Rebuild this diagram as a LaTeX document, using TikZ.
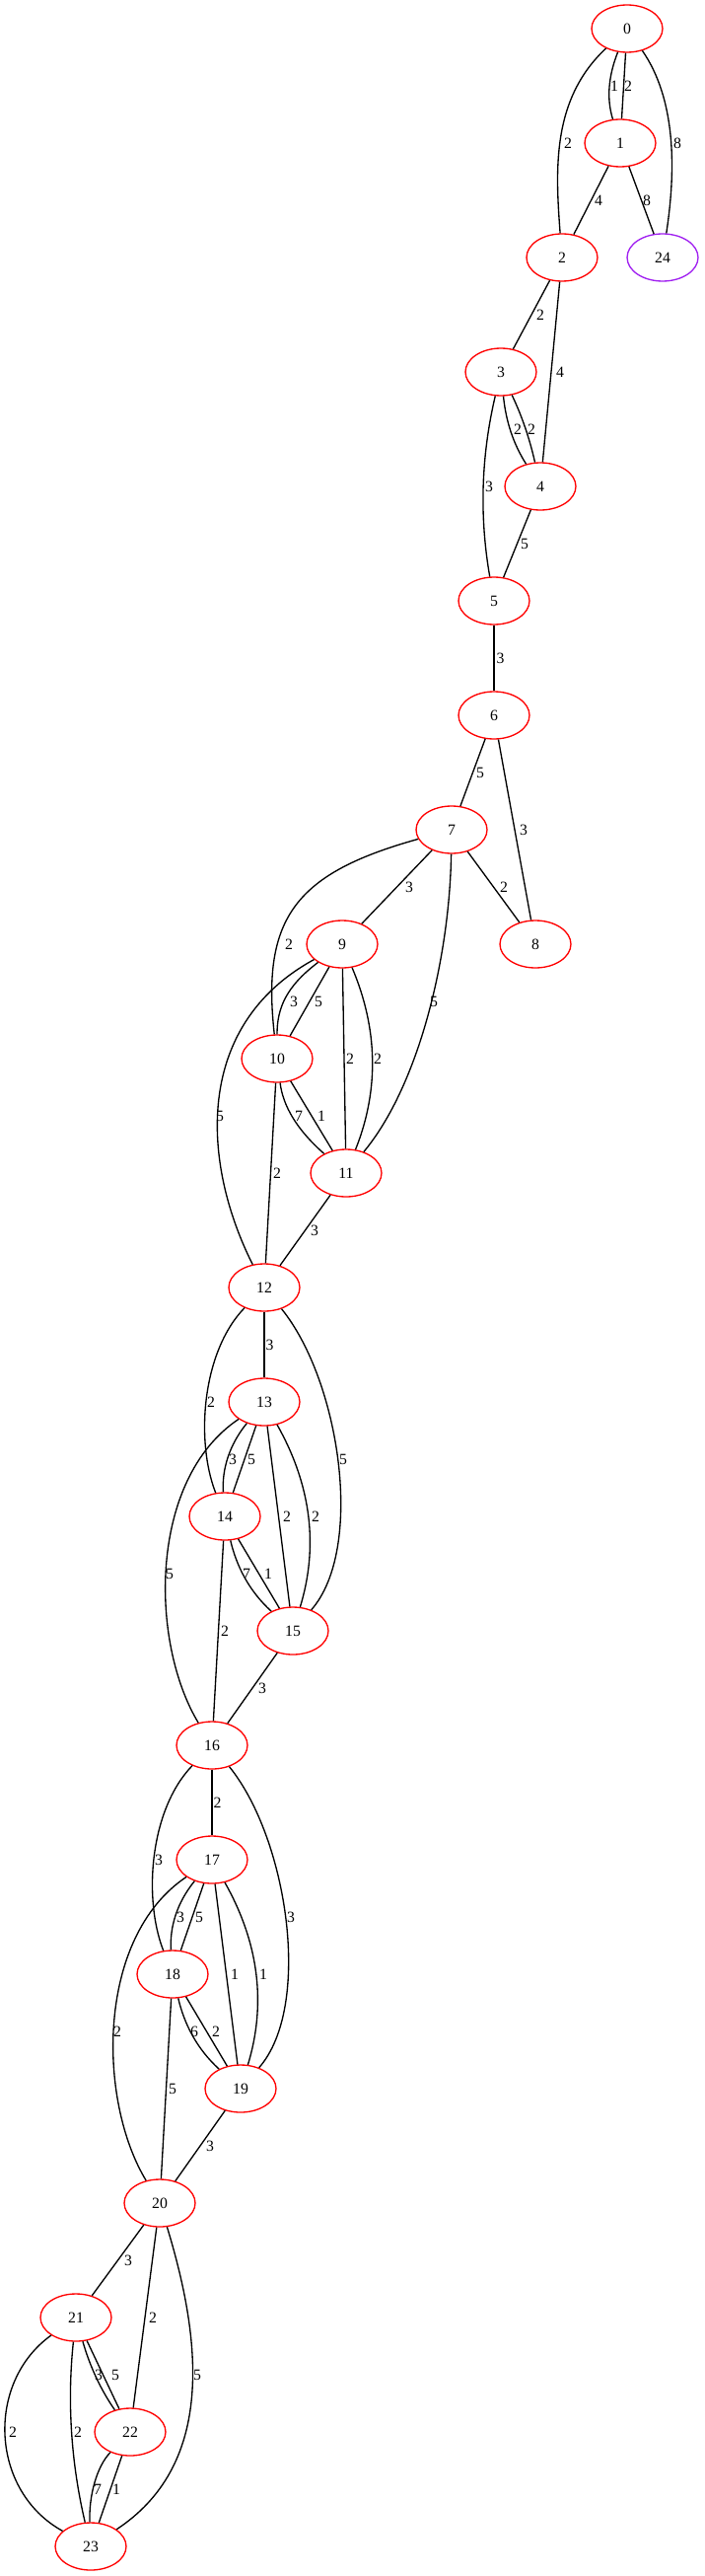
\documentclass[tikz,border=0pt]{standalone}
\usepackage{fontspec}
\setmainfont{Liberation Serif}
\usetikzlibrary{shapes.geometric}
\definecolor{gvred}{HTML}{FF0000}
\definecolor{gvpurple}{HTML}{A020F0}
\newcommand\gvfont{\fontsize{11.8pt}{13pt}\selectfont}
\tikzset{
  vtx/.style={ellipse, draw=gvred, line width=1pt, minimum width=54pt, minimum height=36pt, inner sep=0pt, font=\gvfont},
  vtxp/.style={vtx, draw=gvpurple},
  lnk/.style={line width=1pt, draw=black},
  wt/.style={font=\gvfont, inner sep=0pt}
}
\begin{document}
\begin{tikzpicture}[x=0.75pt,y=-0.75pt]
\useasboundingbox (0,0) rectangle (714,2611);
% nodes
\node[vtx] (n0) at (636,29) {0};
\node[vtx] (n1) at (629,145) {1};
\node[vtx] (n2) at (570,261) {2};
\node[vtxp] (n24) at (672,261) {24};
\node[vtx] (n3) at (508,377) {3};
\node[vtx] (n4) at (548,493) {4};
\node[vtx] (n5) at (501,609) {5};
\node[vtx] (n6) at (501,725) {6};
\node[vtx] (n7) at (458,841) {7};
\node[vtx] (n8) at (543,957) {8};
\node[vtx] (n9) at (347,957) {9};
\node[vtx] (n10) at (281,1073) {10};
\node[vtx] (n11) at (351,1189) {11};
\node[vtx] (n12) at (268,1305) {12};
\node[vtx] (n13) at (268,1421) {13};
\node[vtx] (n14) at (228,1537) {14};
\node[vtx] (n15) at (297,1653) {15};
\node[vtx] (n16) at (215,1769) {16};
\node[vtx] (n17) at (215,1885) {17};
\node[vtx] (n18) at (175,2001) {18};
\node[vtx] (n19) at (244,2117) {19};
\node[vtx] (n20) at (162,2233) {20};
\node[vtx] (n21) at (77,2349) {21};
\node[vtx] (n22) at (132,2465) {22};
\node[vtx] (n23) at (92,2581) {23};

% top part
\draw[lnk] (n0) .. controls (617,77) and (615,100) .. (n1);
\draw[lnk] (n0) -- (n1);
\draw[lnk] (n0) .. controls (560,100) and (563,170) .. (n2);
\draw[lnk] (n0) .. controls (685,100) and (686,170) .. (n24);
\draw[lnk] (n1) -- (n2);
\draw[lnk] (n1) -- (n24);
\draw[lnk] (n2) -- (n3);
\draw[lnk] (n2) -- (n4);
\draw[lnk] (n3) .. controls (513,426) and (520,449) .. (n4);
\draw[lnk] (n3) .. controls (529,421) and (537,444) .. (n4);
\draw[lnk] (n3) .. controls (488,462) and (486,523) .. (n5);
\draw[lnk] (n4) -- (n5);
\draw[lnk] (n5) -- (n6);
\draw[lnk] (n6) -- (n7);
\draw[lnk] (n6) -- (n8);
\draw[lnk] (n7) -- (n8);
\node[wt] (w01a) at (623,87) {1};
\node[wt] (w01b) at (637,87) {2};
\node[wt] (w02) at (576,145) {2};
\node[wt] (w024) at (687,145) {8};
\node[wt] (w12) at (607,203) {4};
\node[wt] (w124) at (656,203) {8};
\node[wt] (w23) at (548,319) {2};
\node[wt] (w24) at (568,377) {4};
\node[wt] (w34a) at (525,435) {2};
\node[wt] (w34b) at (539,435) {2};
\node[wt] (w35) at (496,493) {3};
\node[wt] (w45) at (532,551) {5};
\node[wt] (w56) at (507.5,667) {3};
\node[wt] (w67) at (487,783) {5};
\node[wt] (w68) at (531,841) {3};
\node[wt] (w78) at (511,899) {2};

% block 7-12
\draw[lnk] (n7) -- (n9);
\draw[lnk] (n7) .. controls (300,885) and (265,930) .. (n10);
\draw[lnk] (n7) .. controls (456,970) and (425,1100) .. (n11);
\draw[lnk] (n9) .. controls (290,1000) and (281,1022) .. (n10);
\draw[lnk] (n9) -- (n10);
\draw[lnk] (n9) -- (n11);
\draw[lnk] (n9) .. controls (383,1042) and (385,1104) .. (n11);
\draw[lnk] (n9) .. controls (195,1040) and (205,1180) .. (n12);
\draw[lnk] (n10) .. controls (287,1121) and (301,1145) .. (n11);
\draw[lnk] (n10) -- (n11);
\draw[lnk] (n10) -- (n12);
\draw[lnk] (n11) -- (n12);
\node[wt] (w79) at (415,899) {3};
\node[wt] (w710) at (293,957) {2};
\node[wt] (w711) at (440,1015) {5};
\node[wt] (w910a) at (298,1015) {3};
\node[wt] (w910b) at (323,1015) {5};
\node[wt] (w911a) at (355,1073) {2};
\node[wt] (w911b) at (383,1073) {2};
\node[wt] (w912) at (223,1131) {5};
\node[wt] (w1011a) at (303,1131) {7};
\node[wt] (w1011b) at (326,1131) {1};
\node[wt] (w1012) at (281,1189) {2};
\node[wt] (w1112) at (319,1247) {3};

% block 12-16
\draw[lnk] (n12) -- (n13);
\draw[lnk] (n12) .. controls (205,1370) and (198,1460) .. (n14);
\draw[lnk] (n12) .. controls (345,1400) and (370,1570) .. (n15);
\draw[lnk] (n13) .. controls (232,1465) and (225,1490) .. (n14);
\draw[lnk] (n13) -- (n14);
\draw[lnk] (n13) -- (n15);
\draw[lnk] (n13) .. controls (316,1506) and (323,1568) .. (n15);
\draw[lnk] (n13) .. controls (150,1500) and (152,1665) .. (n16);
\draw[lnk] (n14) .. controls (240,1588) and (253,1613) .. (n15);
\draw[lnk] (n14) -- (n15);
\draw[lnk] (n14) -- (n16);
\draw[lnk] (n15) -- (n16);
\node[wt] (w1213) at (273.5,1363) {3};
\node[wt] (w1214) at (214,1421) {2};
\node[wt] (w1215) at (348,1479) {5};
\node[wt] (w1314a) at (236,1479) {3};
\node[wt] (w1314b) at (255,1479) {5};
\node[wt] (w1315a) at (291,1537) {2};
\node[wt] (w1315b) at (320,1537) {2};
\node[wt] (w1316) at (172,1595) {5};
\node[wt] (w1415a) at (250,1595) {7};
\node[wt] (w1415b) at (272,1595) {1};
\node[wt] (w1416) at (228,1653) {2};
\node[wt] (w1516) at (266,1711) {3};

% block 16-20 (same layout, shifted)
\begin{scope}[shift={(-53,464)}]
\draw[lnk] (n16) -- (n17);
\draw[lnk] (n16) .. controls (205,1370) and (198,1460) .. (n18);
\draw[lnk] (n16) .. controls (345,1400) and (370,1570) .. (n19);
\draw[lnk] (n17) .. controls (232,1465) and (225,1490) .. (n18);
\draw[lnk] (n17) -- (n18);
\draw[lnk] (n17) -- (n19);
\draw[lnk] (n17) .. controls (316,1506) and (323,1568) .. (n19);
\draw[lnk] (n17) .. controls (150,1500) and (152,1665) .. (n20);
\draw[lnk] (n18) .. controls (240,1588) and (253,1613) .. (n19);
\draw[lnk] (n18) -- (n19);
\draw[lnk] (n18) -- (n20);
\draw[lnk] (n19) -- (n20);
\node[wt] (w1617) at (273.5,1363) {2};
\node[wt] (w1618) at (214,1421) {3};
\node[wt] (w1619) at (348,1479) {3};
\node[wt] (w1718a) at (236,1479) {3};
\node[wt] (w1718b) at (255,1479) {5};
\node[wt] (w1719a) at (291,1537) {1};
\node[wt] (w1719b) at (320,1537) {1};
\node[wt] (w1720) at (172,1595) {2};
\node[wt] (w1819a) at (250,1595) {6};
\node[wt] (w1819b) at (272,1595) {2};
\node[wt] (w1820) at (228,1653) {5};
\node[wt] (w1920) at (266,1711) {3};
\end{scope}

% block 20-23
\draw[lnk] (n20) -- (n21);
\draw[lnk] (n20) -- (n22);
\draw[lnk] (n20) .. controls (207,2380) and (215,2500) .. (n23);
\draw[lnk] (n21) .. controls (91,2398) and (102,2422) .. (n22);
\draw[lnk] (n21) -- (n22);
\draw[lnk] (n21) .. controls (-15,2415) and (-10,2525) .. (n23);
\draw[lnk] (n21) .. controls (68,2434) and (72,2496) .. (n23);
\draw[lnk] (n22) .. controls (98,2500) and (90,2530) .. (n23);
\draw[lnk] (n22) -- (n23);
\node[wt] (w2021) at (130,2291) {3};
\node[wt] (w2022) at (155,2349) {2};
\node[wt] (w2023) at (200,2407) {5};
\node[wt] (w2122a) at (100,2407) {3};
\node[wt] (w2122b) at (117,2407) {5};
\node[wt] (w2123a) at (13,2465) {2};
\node[wt] (w2123b) at (79,2465) {2};
\node[wt] (w2223a) at (99,2523) {7};
\node[wt] (w2223b) at (118,2523) {1};
\end{tikzpicture}
\end{document}
